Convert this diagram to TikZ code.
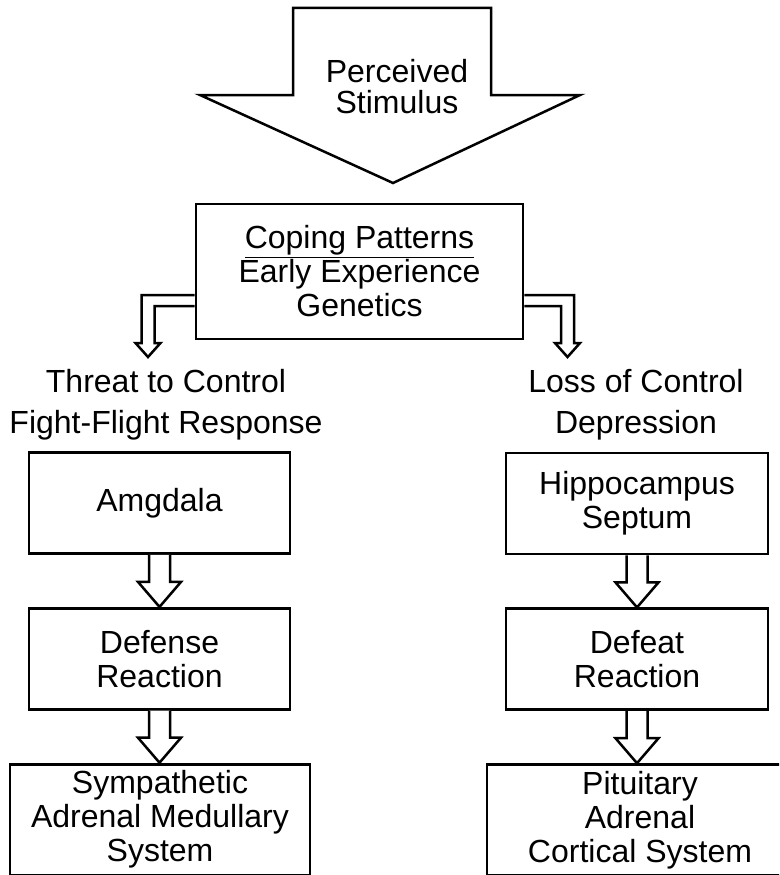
\documentclass[tikz,border=0pt]{standalone}
\usepackage{fontspec}
\setmainfont{Liberation Sans}
\usetikzlibrary{positioning,calc}

\begin{document}
\begin{tikzpicture}[x=1pt, y=1pt,
  caja/.style={draw=black, line width=2.8pt, minimum width=261pt, minimum height=101pt,
               align=center, inner sep=0pt, fill=white},
  hueca/.style={draw=black, line width=2.5pt, fill=white, line join=miter},
  rotulo/.style={align=center, inner sep=0pt},
  font=\fontsize{32}{34}\selectfont,
]
  \useasboundingbox (0,0) rectangle (779,-875);
  \clip (0,0) rectangle (779,-875);

  % gran flecha de entrada
  \draw[hueca] (293,-8) -- (491,-8) -- (491,-95) -- (580,-95) -- (393,-183)
    -- (200,-95) -- (293,-95) -- cycle;
  \node[rotulo] (estimulo) at (397,-87) {Perceived\\[-3pt]Stimulus};

  \node[caja, minimum width=327pt, minimum height=135pt]
    (coping) at (359.5,-271.5) {\underline{Coping Patterns}\\Early Experience\\Genetics};

  \node[caja] (amig) at (159.5,-503) {Amgdala};
  \node[caja, below=52pt of amig] (defensa) {Defense\\Reaction};
  \node[caja, minimum width=300pt, minimum height=111pt, below=52pt of defensa, xshift=0.5pt]
    (simpatico) {Sympathetic\\Adrenal Medullary\\System};

  \node[caja, minimum width=262pt] (hipo) at (637,-503.5) {Hippocampus\\Septum};
  \node[caja, minimum width=262pt, below=52pt of hipo] (derrota) {Defeat\\Reaction};
  \node[caja, minimum width=306pt, minimum height=111pt, below=52pt of derrota, xshift=3pt]
    (pituitaria) {Pituitary\\Adrenal\\Cortical System};

  \node[rotulo] (amenaza) at (166,-405) {Threat to Control\\[7pt]Fight-Flight Response};
  \node[rotulo] (perdida) at (636,-405) {Loss of Control\\[7pt]Depression};

  % flechas en codo
  \coordinate (puntaI) at (148,-357);
  \coordinate (puntaD) at (567.5,-357);
  \draw[hueca] ($(coping.west)+(0,-23.5)$) -| ($(puntaI)+(-6.5,14)$) -- ++(-6,0)
    -- (puntaI) -- ($(puntaI)+(12.5,14)$) -- ++(-6,0) |- ($(coping.west)+(0,-34.5)$);
  \draw[hueca] ($(coping.east)+(0,-23.5)$) -| ($(puntaD)+(6.5,14)$) -- ++(6,0)
    -- (puntaD) -- ($(puntaD)+(-12.5,14)$) -- ++(6,0) |- ($(coping.east)+(0,-34.5)$);

  \foreach \desde/\hasta in {amig/defensa, defensa/simpatico, hipo/derrota, derrota/pituitaria}{
    \path (\desde.south) coordinate (s) (\desde.south |- \hasta.north) coordinate (t);
    \draw[hueca] ($(s)+(-10.5,0)$) -- ($(t)+(-10.5,25)$) -- ($(t)+(-21.5,25)$) -- (t)
      -- ($(t)+(21.5,25)$) -- ($(t)+(10.5,25)$) -- ($(s)+(10.5,0)$);
  }
\end{tikzpicture}
\end{document}
